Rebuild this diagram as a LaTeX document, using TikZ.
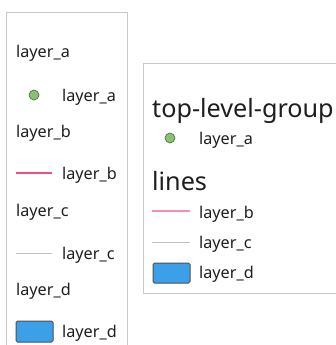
\documentclass[tikz,border=0pt]{standalone}
\usepackage{fontspec}
\setmainfont{Noto Sans}
\definecolor{framegray}{RGB}{200,200,200}
\definecolor{dotfill}{RGB}{140,190,120}
\definecolor{dotedge}{RGB}{80,120,70}
\definecolor{crimsonish}{RGB}{240,80,125}
\definecolor{linepink}{RGB}{244,143,177}
\definecolor{linegray}{RGB}{195,195,195}
\definecolor{boxblue}{RGB}{60,160,232}
\definecolor{boxedge}{RGB}{80,80,80}
\definecolor{txt}{RGB}{30,30,30}
\begin{document}
\begin{tikzpicture}[x=1pt,y=-1pt,
  boxframe/.style={draw=framegray,line width=0.9pt},
  lbl/.style={anchor=base west,inner sep=0pt,font=\fontsize{16.2}{19}\selectfont,text=txt},
  ttl/.style={anchor=base west,inner sep=0pt,font=\fontsize{25.2}{29}\selectfont,text=txt},
  dot/.style={circle,fill=dotfill,draw=dotedge,line width=0.7pt,minimum size=10pt,inner sep=0pt},
  crimsonline/.style={color=crimsonish,line width=1.1pt},
  pinkline/.style={draw=linepink,line width=2pt},
  grayline/.style={draw=linegray,line width=1pt},
  bluebox/.style={draw=boxedge,fill=boxblue,line width=1pt,rounded corners=1.5pt}
]
\useasboundingbox (0,0) rectangle (336,345);
% left legend
\draw[boxframe] (6,350) -- (6,12) -- (127,12) -- (127,350);
\node[lbl] (la1) at (16,57) {layer\_a};
\node[dot] (da) at (34,95) {};
\node[lbl] (la2) at (62,101) {layer\_a};
\node[lbl] (lb1) at (16,137) {layer\_b};
\coordinate (cr1) at (16,173); \coordinate (cr2) at (52,173);
\draw[crimsonline] (cr1) -- (cr2);
\node[lbl] (lb2) at (62,179) {layer\_b};
\node[lbl] (lc1) at (16,216) {layer\_c};
\coordinate (gc1) at (16,253); \coordinate (gc2) at (52,253);
\draw[grayline] (gc1) -- (gc2);
\node[lbl] (lc2) at (62,259) {layer\_c};
\node[lbl] (ld1) at (16,295) {layer\_d};
\coordinate (bd1) at (16,321); \coordinate (bd2) at (53,342);
\draw[bluebox] (bd1) rectangle (bd2);
\node[lbl] (ld2) at (62,337) {layer\_d};
% right legend
\draw[boxframe] (345,63) -- (143,63) -- (143,293) -- (345,293);
\node[ttl] (tg) at (152,117) {top-level-group};
\node[dot] (db) at (170,138) {};
\node[lbl] (ra) at (199,144) {layer\_a};
\node[ttl] (tl) at (152,190) {lines};
\coordinate (pb1) at (152,211); \coordinate (pb2) at (190,211);
\draw[pinkline] (pb1) -- (pb2);
\node[lbl] (rb) at (199,218) {layer\_b};
\coordinate (gr1) at (152,242); \coordinate (gr2) at (190,242);
\draw[grayline] (gr1) -- (gr2);
\node[lbl] (rc) at (199,248) {layer\_c};
\coordinate (br1) at (153,263); \coordinate (br2) at (190,283);
\draw[bluebox] (br1) rectangle (br2);
\node[lbl] (rd) at (199,278) {layer\_d};
\end{tikzpicture}
\end{document}
